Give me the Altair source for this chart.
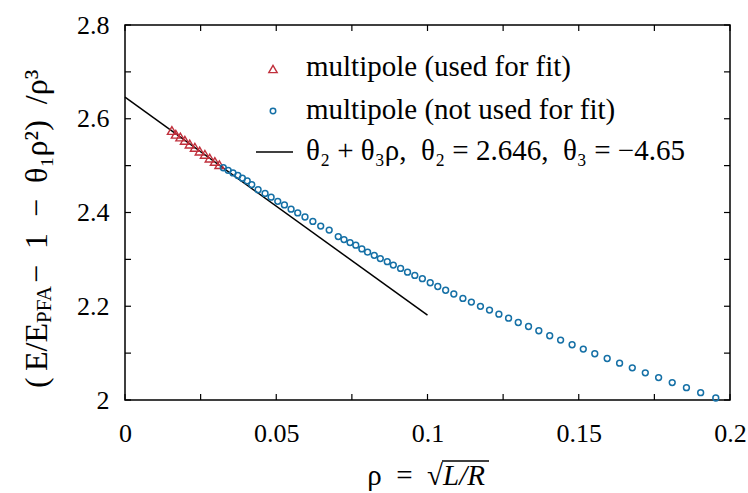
import altair as alt
import pandas as pd

# ---------------- data ----------------
fit_rho = [0.0155, 0.0168, 0.0183, 0.0198, 0.0214, 0.0231, 0.0247, 0.0264, 0.0280, 0.0297, 0.0312]
fit_val = [2.575, 2.567, 2.561, 2.554, 2.546, 2.539, 2.531, 2.524, 2.516, 2.509, 2.502]

nofit_rho = [0.0325, 0.0341, 0.0357, 0.0373, 0.0388, 0.0404, 0.0419, 0.0440, 0.0463, 0.0483,
             0.0505, 0.0527, 0.0549, 0.0571, 0.0595, 0.0621, 0.0647, 0.0675,
             0.0705, 0.0724, 0.0744, 0.0763, 0.0783, 0.0802, 0.0824, 0.0844, 0.0867, 0.0887,
             0.0911, 0.0934, 0.0958, 0.0983, 0.1009, 0.1034, 0.1060, 0.1087, 0.1117, 0.1145,
             0.1175, 0.1205, 0.1236, 0.1268, 0.1300, 0.1334, 0.1368, 0.1404, 0.1440, 0.1478,
             0.1515, 0.1553, 0.1594, 0.1635, 0.1677, 0.1720, 0.1764, 0.1809, 0.1856, 0.1903, 0.1953]
nofit_val = [2.4954, 2.4900, 2.4845, 2.4789, 2.4733, 2.4673, 2.4596, 2.4485, 2.4408, 2.4328,
             2.4238, 2.4161, 2.4071, 2.3992, 2.3904, 2.3810, 2.3711, 2.3625,
             2.3486, 2.3422, 2.3358, 2.3304, 2.3223, 2.3154, 2.3086, 2.3017, 2.2951, 2.2878,
             2.2807, 2.2728, 2.2657, 2.2588, 2.2501, 2.2421, 2.2342, 2.2261, 2.2168, 2.2089,
             2.1999, 2.1918, 2.1832, 2.1746, 2.1654, 2.1568, 2.1478, 2.1371, 2.1279, 2.1178,
             2.1086, 2.0986, 2.0885, 2.0786, 2.0686, 2.0579, 2.0478, 2.0371, 2.0264, 2.0156, 2.0043]

line_rho = [0.0, 0.1]
line_val = [2.646, 2.181]

x_ticks = [0, 0.025, 0.05, 0.075, 0.1, 0.125, 0.15, 0.175, 0.2]
y_ticks = [2.0, 2.1, 2.2, 2.3, 2.4, 2.5, 2.6, 2.7, 2.8]
x_labels = [0, 0.05, 0.1, 0.15, 0.2]
y_labels = [2.0, 2.2, 2.4, 2.6, 2.8]

NB = "\u00a0"
EN = "\u2002"
legend_texts = ["multipole (used for fit)", "multipole (not used for fit)",
                "θ₂ + θ₃ρ," + NB + NB + "θ₂ = 2.646," + NB + NB + "θ₃ = −4.65"]

# ---------------- styling ----------------
W, H = 605, 375
FONT = "Liberation Serif, Times New Roman, serif"
RED = "#c0303c"
BLUE = "#1570a6"

xs = alt.Scale(domain=[0, 0.2], nice=False, zero=False)
ys = alt.Scale(domain=[2.0, 2.8], nice=False, zero=False)
xaxis = alt.Axis(values=x_labels, format="~g", ticks=False, domain=False, grid=False,
                 labelFont=FONT, labelFontSize=26, labelPadding=20, labelColor="black",
                 labelFlush=False, labelOverlap=False, title=None)
yaxis = alt.Axis(values=y_labels, format="~g", ticks=False, domain=False, grid=False,
                 labelFont=FONT, labelFontSize=26, labelPadding=16, labelColor="black",
                 labelFlush=False, labelOverlap=False, title=None)

X = alt.X("rho:Q", scale=xs, axis=xaxis)
Y = alt.Y("val:Q", scale=ys, axis=yaxis)

line = alt.Chart(pd.DataFrame({"rho": line_rho, "val": line_val})).mark_line(
    color="black", strokeWidth=1.5).encode(x=X, y=Y)

tri = alt.Chart(pd.DataFrame({"rho": fit_rho, "val": fit_val})).mark_point(
    shape="triangle-up", filled=False, size=80, strokeWidth=1.4, color=RED, opacity=1).encode(x=X, y=Y)

circ = alt.Chart(pd.DataFrame({"rho": nofit_rho, "val": nofit_val})).mark_point(
    shape="circle", filled=False, size=34, strokeWidth=1.5, color=BLUE, opacity=1).encode(x=X, y=Y)

TL = 6
xt = pd.DataFrame({"rho": x_ticks})
yt = pd.DataFrame({"val": y_ticks})
xt_b = alt.Chart(xt).mark_rule(color="black", strokeWidth=1.2).encode(x=X, y=alt.value(H), y2=alt.value(H - TL))
xt_t = alt.Chart(xt).mark_rule(color="black", strokeWidth=1.2).encode(x=X, y=alt.value(0), y2=alt.value(TL))
yt_l = alt.Chart(yt).mark_rule(color="black", strokeWidth=1.2).encode(y=Y, x=alt.value(0), x2=alt.value(TL))
yt_r = alt.Chart(yt).mark_rule(color="black", strokeWidth=1.2).encode(y=Y, x=alt.value(W), x2=alt.value(W - TL))

one = pd.DataFrame({"a": [0]})
leg_df = pd.DataFrame({"t": legend_texts, "yy": [51, 94, 135]})
leg_txt = alt.Chart(leg_df).mark_text(align="left", baseline="alphabetic", font=FONT,
                                      fontSize=29, color="black").encode(
    x=alt.value(181), y=alt.Y("yy:Q", scale=None), text="t:N")
leg_tri = alt.Chart(one).mark_point(shape="triangle-up", filled=False, size=70, strokeWidth=1.4,
                                    color=RED, opacity=1).encode(x=alt.value(148), y=alt.value(44))
leg_circ = alt.Chart(one).mark_point(shape="circle", filled=False, size=30, strokeWidth=1.5,
                                     color=BLUE, opacity=1).encode(x=alt.value(148), y=alt.value(86))
leg_line = alt.Chart(one).mark_rule(color="black", strokeWidth=1.5).encode(
    x=alt.value(131), x2=alt.value(168), y=alt.value(127))

# y-axis title in pieces (subscript PFA)
YT_X = -88
Y0 = 298
yt1 = alt.Chart(one).mark_text(text="(\u2009E/E", angle=270, align="right", baseline="middle", font=FONT,
                               fontSize=32, color="black").encode(x=alt.value(YT_X), y=alt.value(Y0))
yt2 = alt.Chart(one).mark_text(text="PFA", angle=270, align="left", baseline="middle", font=FONT,
                               fontSize=21, color="black").encode(x=alt.value(YT_X + 8), y=alt.value(Y0))
yt3 = alt.Chart(one).mark_text(text=EN + "−" + EN + "1" + EN + "−" + EN + "θ₁ρ²)" + EN + "/ρ³",
                               angle=270, align="left", baseline="middle",
                               font=FONT, fontSize=32, color="black").encode(x=alt.value(YT_X), y=alt.value(Y0 - 40))

# x-axis title with radical
X0 = 318
xa = alt.Chart(one).mark_text(text="ρ" + EN + "=" + EN + "√", align="right", baseline="alphabetic", font=FONT,
                              fontSize=29, color="black").encode(x=alt.value(X0), y=alt.value(460))
xb = alt.Chart(one).mark_text(text="L/R", align="left", baseline="alphabetic", font=FONT,
                              fontSize=29, fontStyle="italic", color="black").encode(x=alt.value(X0), y=alt.value(460))
xbar = alt.Chart(one).mark_rule(color="black", strokeWidth=1.3).encode(
    x=alt.value(X0 - 1), x2=alt.value(X0 + 46), y=alt.value(436))

chart = alt.layer(line, tri, circ, xt_b, xt_t, yt_l, yt_r,
                  leg_txt, leg_tri, leg_circ, leg_line,
                  yt1, yt2, yt3, xa, xb, xbar).properties(
    width=W, height=H,
    autosize=alt.AutoSizeParams(type="none"),
    padding={"left": 125, "top": 25, "right": 18, "bottom": 93},
    background="white",
).configure_view(stroke="black", strokeWidth=1.5)

chart.save("out.html", embed_options={"renderer": "svg", "actions": False})
